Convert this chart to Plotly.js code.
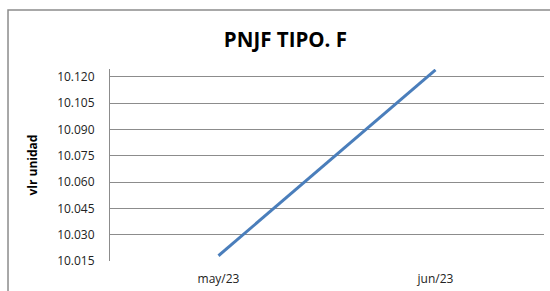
<!DOCTYPE html>
<html>
<head>
<meta charset="utf-8">
<script src="https://cdn.plot.ly/plotly-3.0.1.min.js"></script>
<style>html,body{margin:0;padding:0;background:#fff;}#chart{width:550px;height:291px;}</style>
</head>
<body>
<div id="chart"></div>
<script>
const categories = ["may/23", "jun/23"];
const values = [10.018, 10.124];
const yTickVals = [10.015, 10.030, 10.045, 10.060, 10.075, 10.090, 10.105, 10.120];

const trace = {
  x: categories,
  y: values,
  type: "scatter",
  mode: "lines",
  line: {color: "#4A7EBB", width: 3},
  hoverinfo: "skip"
};

const layout = {
  width: 550,
  height: 291,
  margin: {l: 110, r: 6, t: 69, b: 30},
  paper_bgcolor: "#ffffff",
  plot_bgcolor: "#ffffff",
  showlegend: false,
  font: {family: "Open Sans, Liberation Sans, sans-serif", color: "#222"},
  title: {
    text: "<b>PNJF TIPO. F</b>",
    font: {family: "Open Sans, sans-serif", size: 20.5, color: "#000"},
    xref: "container", yref: "container",
    x: 0.519, y: 0.862, xanchor: "center", yanchor: "middle"
  },
  xaxis: {
    type: "category",
    range: [-0.5, 1.5],
    showgrid: false,
    zeroline: false,
    showline: false,
    ticks: "",
    tickfont: {size: 12, color: "#222"},
    ticklabelstandoff: 9,
    fixedrange: true
  },
  yaxis: {
    range: [10.015, 10.1245],
    tickvals: yTickVals,
    tickformat: ".3f",
    showgrid: true,
    gridcolor: "#8C8C8C",
    gridwidth: 1,
    zeroline: false,
    showline: true,
    linecolor: "#8C8C8C",
    linewidth: 1,
    ticks: "",
    tickfont: {size: 12, color: "#222"},
    ticklabelstandoff: 12,
    automargin: false,
    title: {
      text: "<b>vlr unidad</b>",
      font: {size: 12, color: "#000"},
      standoff: 16
    },
    fixedrange: true
  },
  shapes: [{
    type: "rect", xref: "paper", yref: "paper",
    x0: -0.235, x1: 1.1, y0: -0.3, y1: 1.307,
    line: {color: "#8C8C8C", width: 1.5},
    fillcolor: "rgba(0,0,0,0)",
    layer: "below"
  }]
};

Plotly.newPlot("chart", [trace], layout, {displayModeBar: false, staticPlot: true});
</script>
</body>
</html>
